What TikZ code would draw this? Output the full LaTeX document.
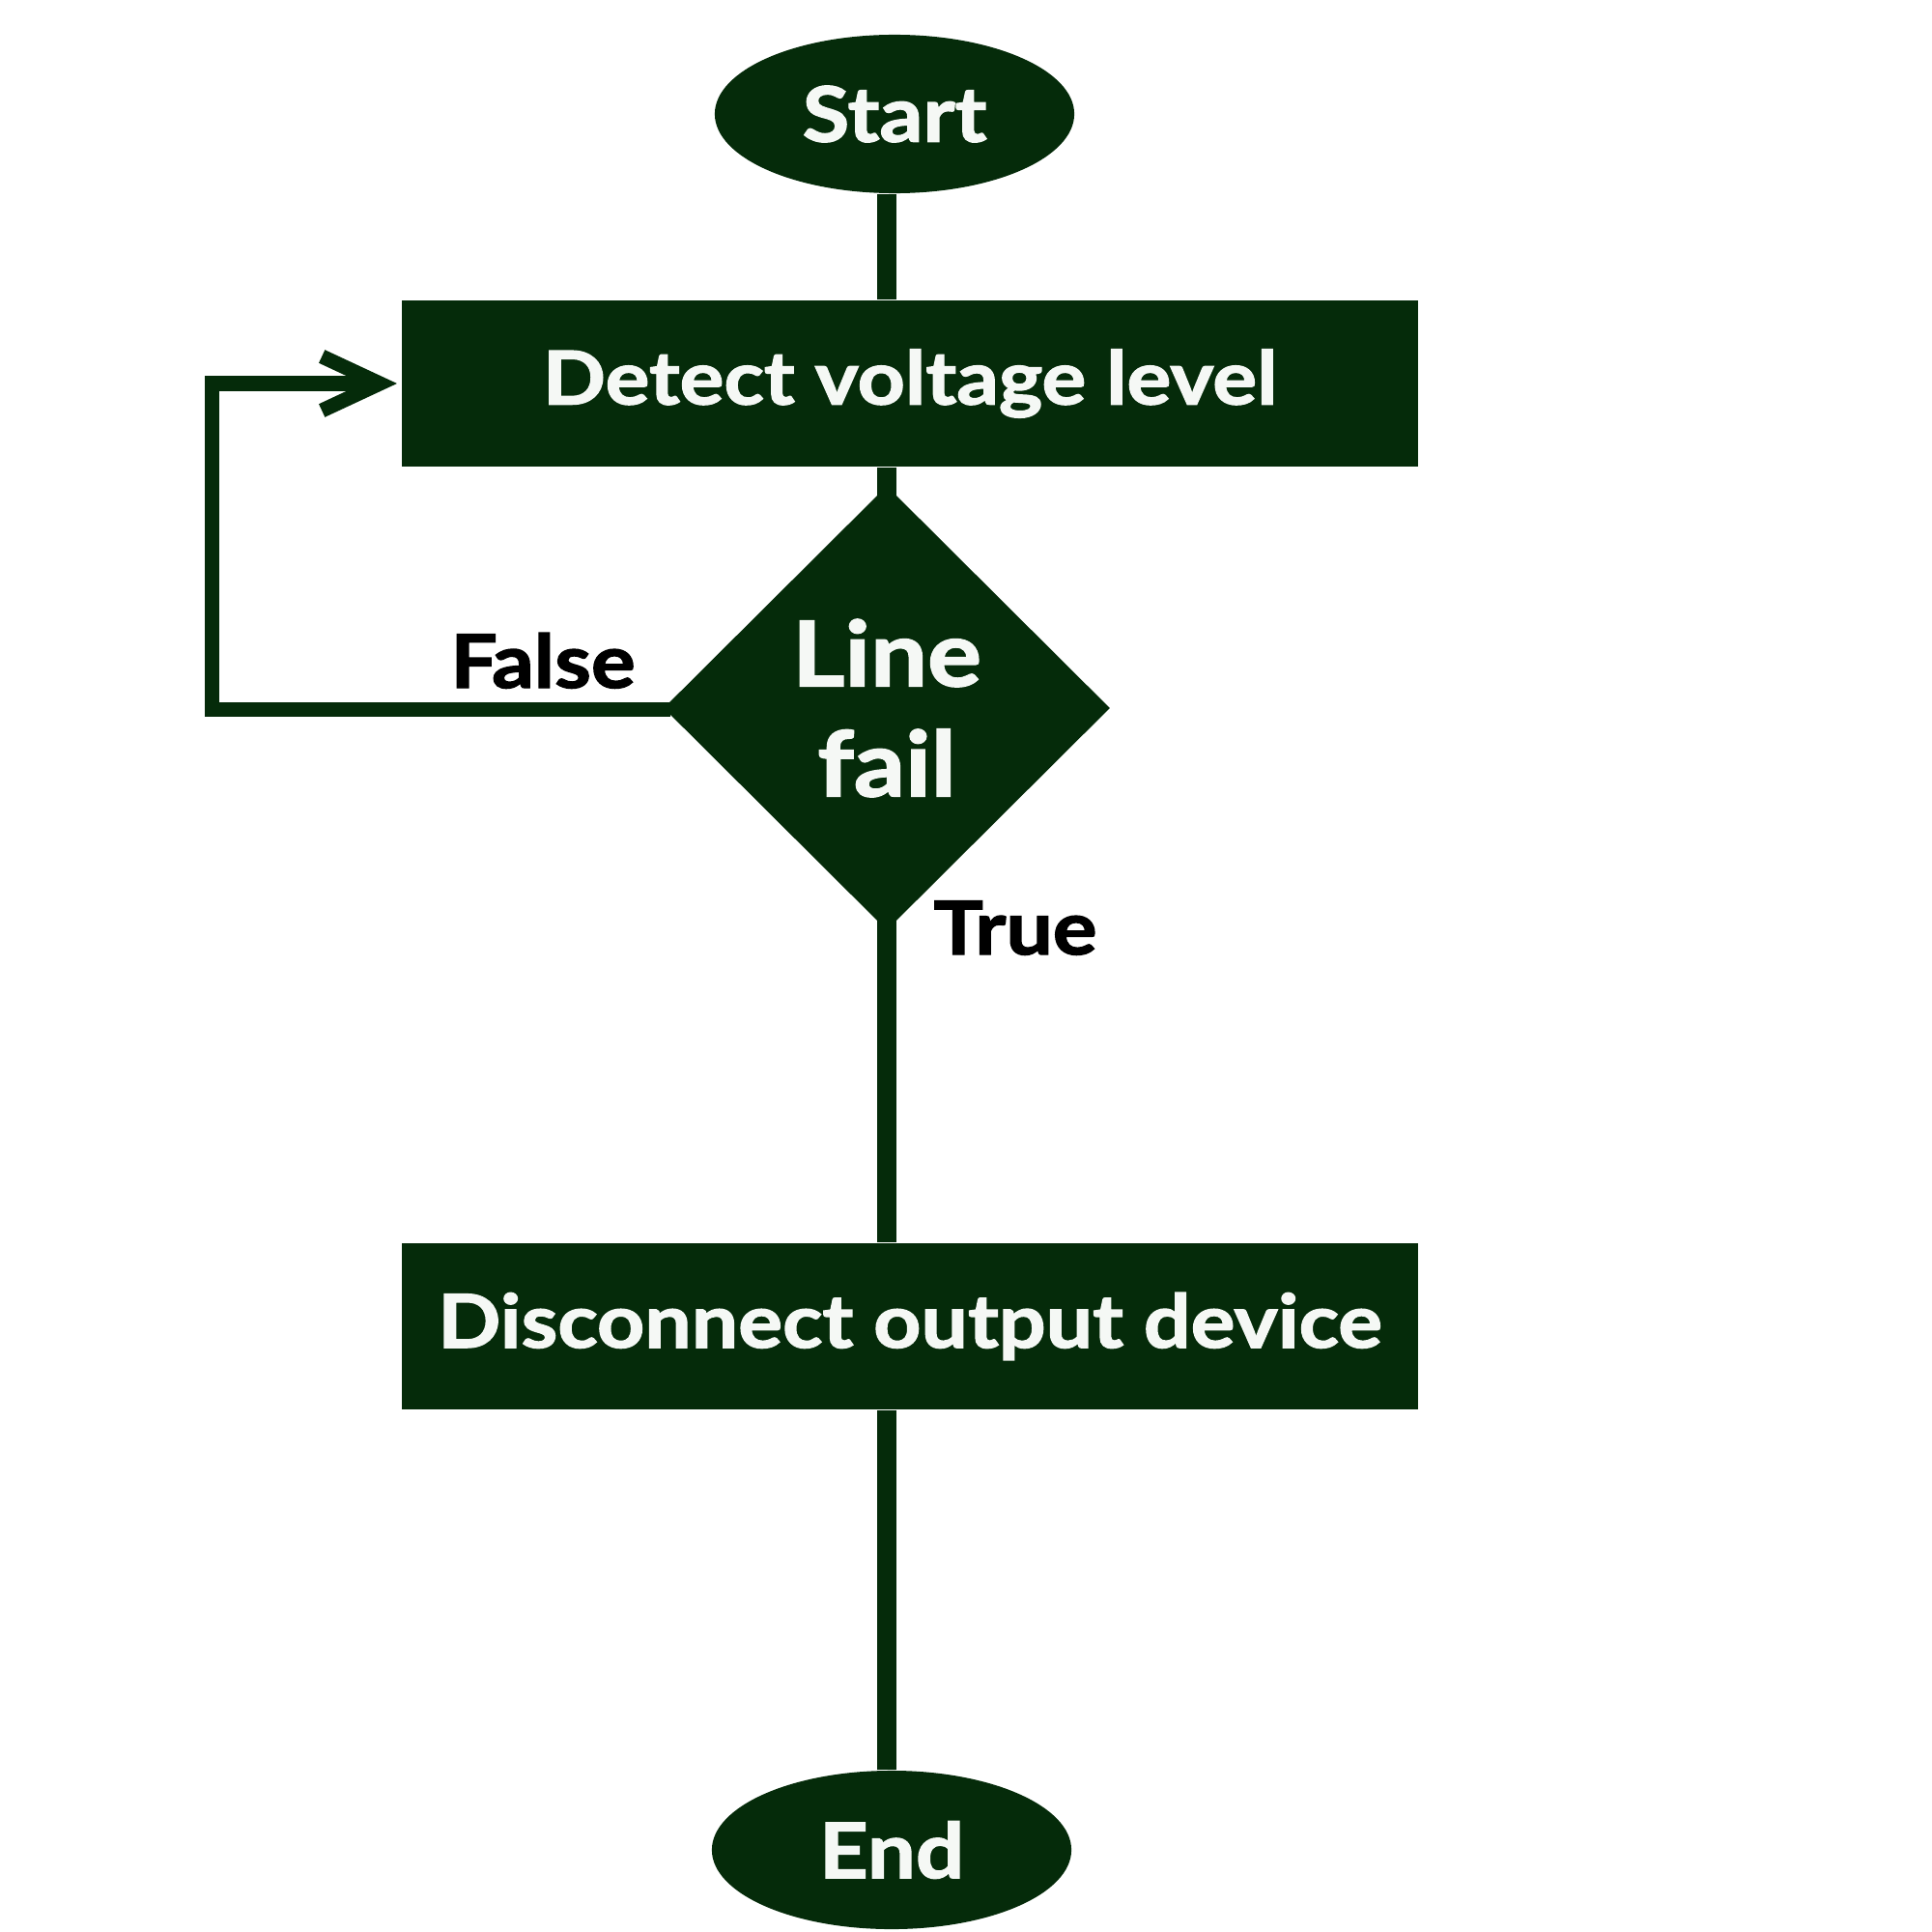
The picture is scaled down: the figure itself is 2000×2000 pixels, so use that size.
\documentclass[tikz,border=0pt]{standalone}
\usepackage{fontspec}
\setmainfont{Lato}[FakeStretch=1.12, BoldFeatures={FakeBold=1.8}]
\usetikzlibrary{shapes.geometric,arrows.meta}
\definecolor{dgreen}{HTML}{052B0A}
\definecolor{offwhite}{HTML}{F5F8F5}
\tikzset{
  term/.style={ellipse, fill=dgreen, text=offwhite, minimum width=3.72cm, minimum height=1.64cm, inner sep=0pt, font=\fontsize{22.5}{26}\selectfont\bfseries},
  proc/.style={rectangle, fill=dgreen, text=offwhite, minimum width=10.52cm, minimum height=1.72cm, inner sep=0pt, font=\fontsize{21.8}{26}\selectfont\bfseries},
  decis/.style={diamond, fill=dgreen, text=offwhite, minimum width=4.62cm, minimum height=4.60cm, inner sep=0pt, align=center, font=\fontsize{26.6}{32.4}\selectfont\bfseries},
  conn/.style={draw=dgreen, line width=0.2cm},
  loopconn/.style={draw=dgreen, line width=0.15cm},
  lbl/.style={text=black, inner sep=0pt, font=\fontsize{21.8}{26}\selectfont\bfseries},
}
\begin{document}
\begin{tikzpicture}[x=0.01cm,y=-0.01cm]
\useasboundingbox[fill=white] (0,0) rectangle (2000,2000);
\node[term] (start) at (926,118) {Start};
\node[proc] (detect) at (942,397) {Detect voltage level};
\node[decis] (dia) at (918,733) {Line\\fail};
\node[proc] (disc) at (942,1373) {Disconnect output device};
\node[term] (end) at (923,1915) {End};
\draw[conn] (start.south -| dia) -- (detect.north -| dia);
\draw[conn] (detect.south -| dia) -- ([yshift=-0.3cm]dia.north);
\draw[conn] ([yshift=0.3cm]dia.south) -- (disc.north -| dia);
\draw[conn] (disc.south -| dia) -- (end.north -| dia);
\draw[loopconn, -{Straight Barb[length=0.6cm,width=0.56cm]}] ([xshift=0.08cm, yshift=-0.01cm]dia.west) -- ++(-475,0) |- ([xshift=-0.04cm]detect.west);
\node[lbl, anchor=base] (false) at (562,712) {False};
\node[lbl, anchor=base] (true) at (1051,988) {True};
\end{tikzpicture}
\end{document}
